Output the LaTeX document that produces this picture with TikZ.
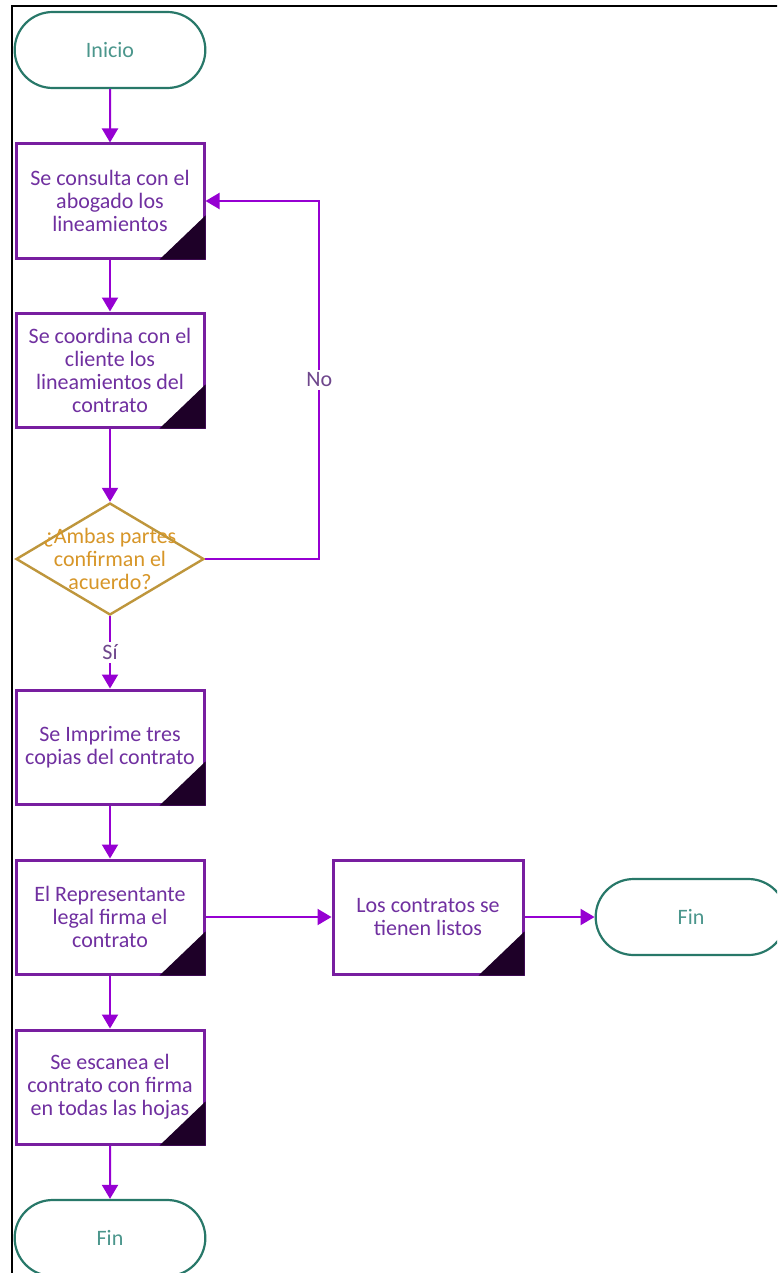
\documentclass[tikz,border=0pt]{standalone}
\usepackage{fontspec}
\setmainfont{Carlito}
\usetikzlibrary{arrows.meta,shapes.geometric,shapes.misc}

\definecolor{flowpurple}{RGB}{150,0,210}
\definecolor{boxpurple}{RGB}{120,30,160}
\definecolor{boxtext}{RGB}{112,48,160}
\definecolor{cornerdark}{RGB}{30,0,40}
\definecolor{termteal}{RGB}{40,120,105}
\definecolor{termtext}{RGB}{75,150,140}
\definecolor{decgold}{RGB}{190,150,60}
\definecolor{dectext}{RGB}{215,150,40}
\definecolor{labeltext}{RGB}{110,70,140}

\tikzset{
  procbox/.style={draw=boxpurple,line width=1.5pt,fill=white,minimum width=94pt,
    minimum height=57pt,align=center,text=boxtext,inner sep=2pt},
  termbox/.style={rounded rectangle,draw=termteal,line width=1.1pt,fill=white,
    minimum width=102pt,minimum height=38pt,text=termtext},
  decision/.style={diamond,draw=decgold,line width=1.2pt,fill=white,
    minimum width=94pt,minimum height=56pt,inner sep=0pt},
  decisiontext/.style={align=center,text=dectext,inner sep=0pt},
  flow/.style={draw=flowpurple,line width=1pt,-{Triangle[width=8pt,length=7pt]}},
  flowlabel/.style={fill=white,text=labeltext,inner sep=1.5pt}
}

\begin{document}
\begin{tikzpicture}[x=0.5pt,y=-0.5pt,font=\fontsize{11}{11.5}\selectfont]
\useasboundingbox (0,0) rectangle (777,1273);
\clip (0,0) rectangle (777,1273);
% frame
\draw[line width=1pt] (12,1300) -- (12,6) -- (800,6);

% main column
\node[termbox] (inicio) at (110,50) {Inicio};
\node[procbox] (consulta) at (110,201) {Se consulta con el\\abogado los\\lineamientos};
\node[procbox] (coordina) at (110,370) {Se coordina con el\\cliente los\\lineamientos del\\contrato};
\node[decision] (acuerdo) at (110,559) {};
\node[decisiontext] (acuerdotxt) at (acuerdo) {¿Ambas partes\\confirman el\\acuerdo?};
\node[procbox] (imprime) at (110,747) {Se Imprime tres\\copias del contrato};
\node[procbox] (firma) at (110,917) {El Representante\\legal firma el\\contrato};
\node[procbox] (escanea) at (110,1087) {Se escanea el\\contrato con firma\\en todas las hojas};
\node[termbox] (finB) at (110,1238) {Fin};

% right branch
\node[procbox,minimum width=95pt] (listos) at (428,917) {Los contratos se\\tienen listos};
\node[termbox] (finA) at (691,917) {Fin};

% dark corners
\foreach \b in {consulta,coordina,imprime,firma,escanea,listos}
  \fill[cornerdark] (\b.south east) -- ++(-23pt,0) -- ++(23pt,22pt) -- cycle;

\draw[flow] (inicio) -- (consulta);
\draw[flow] (consulta) -- (coordina);
\draw[flow] (coordina) -- (acuerdo);
\draw[flow] (acuerdo) -- node[flowlabel] {Sí} (imprime);
\draw[flow] (acuerdo.east) -- ++(114,0) |- node[flowlabel,pos=0.25] {No} (consulta.east);
\draw[flow] (imprime) -- (firma);
\draw[flow] (firma) -- (listos);
\draw[flow] (listos) -- (finA);
\draw[flow] (firma) -- (escanea);
\draw[flow] (escanea) -- (finB);
\end{tikzpicture}
\end{document}
